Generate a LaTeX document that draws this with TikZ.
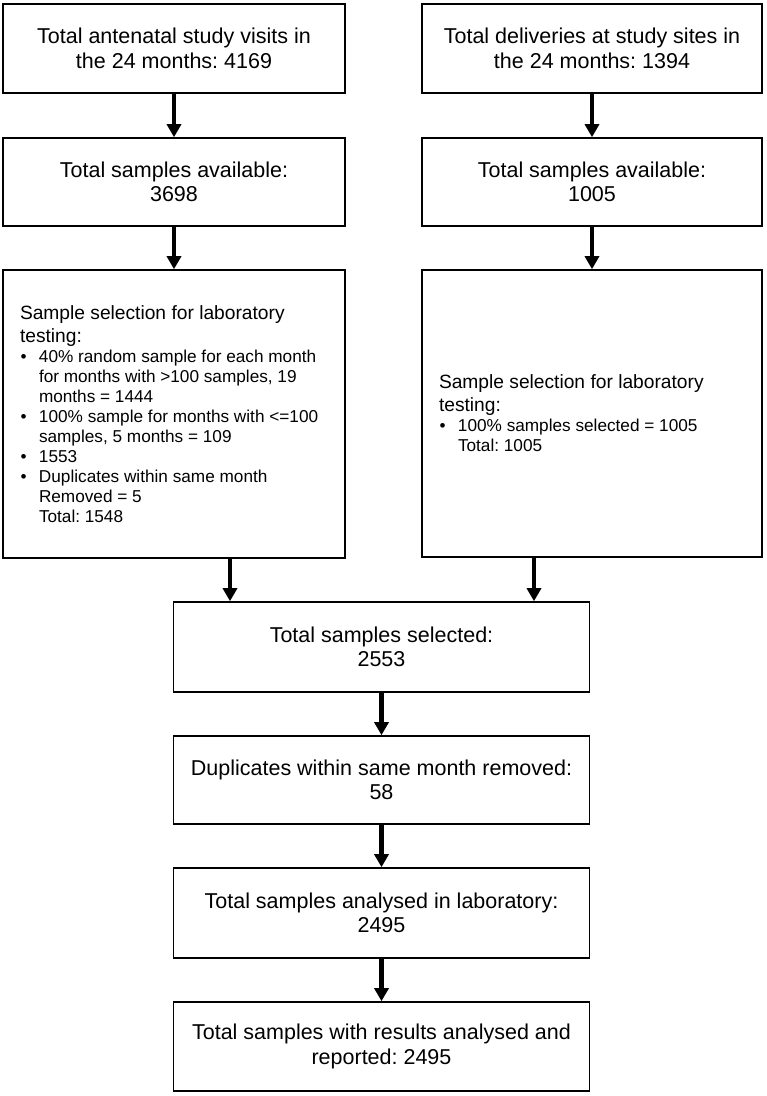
\documentclass[tikz,border=0pt]{standalone}
\usepackage{fontspec}
\setmainfont{Liberation Sans}
\usetikzlibrary{arrows.meta}
\newcommand{\mybul}[1]{\par\noindent\hangindent=19pt\hangafter=1\makebox[19pt][l]{\hspace{0.5pt}\textbullet}#1}
\newcommand{\headfont}{\fontsize{19.2}{23}\selectfont\spaceskip=0pt\xspaceskip=0pt\frenchspacing }
\newcommand{\listfont}{\fontsize{17.2}{20}\selectfont\spaceskip=0pt\xspaceskip=0pt\frenchspacing }
\begin{document}
\frenchspacing
\begin{tikzpicture}[x=1pt,y=-1pt,
  box/.style={draw, line width=1.6pt, rectangle, inner sep=0pt, align=center,
    font=\fontsize{21.5}{24.5}\selectfont\frenchspacing},
  listbox/.style={draw, line width=1.6pt, rectangle, inner xsep=17pt, inner ysep=0pt,
    align=left, text width=#1},
  arr/.style={line width=4.5pt, -{Triangle[width=14pt,length=13pt]}}]
\useasboundingbox (0,0) rectangle (767,1096);

\node[box, minimum width=342pt, minimum height=89pt] (a1) at (174,48.5)
  {Total antenatal study visits in\\the 24 months: 4169};
\node[box, minimum width=340pt, minimum height=89pt] (b1) at (592,48.5)
  {Total deliveries at study sites in\\the 24 months: 1394};
\node[box, minimum width=342pt, minimum height=88pt] (a2) at (174,182)
  {Total samples available:\\3698};
\node[box, minimum width=340pt, minimum height=88pt] (b2) at (592,182)
  {Total samples available:\\1005};

\node[listbox=308pt, minimum width=342pt, minimum height=288pt] (a3) at (174,414)
  {\headfont Sample selection for laboratory\newline testing:\par
   \listfont
   \mybul{40\% random sample for each month\newline for months with >100 samples, 19\newline months = 1444}
   \mybul{100\% sample for months with <=100\newline samples, 5 months = 109}
   \mybul{1553}
   \mybul{Duplicates within same month\newline Removed = 5\newline Total: 1548}\par};
\node[listbox=306pt, minimum width=340pt, minimum height=287pt] (b3) at (592,413.5)
  {\headfont Sample selection for laboratory\newline testing:\par
   \listfont
   \mybul{100\% samples selected = 1005\newline Total: 1005}\par};

\node[box, minimum width=416pt, minimum height=90pt] (c1) at (381.5,647)
  {Total samples selected:\\2553};
\node[box, minimum width=416pt, minimum height=88pt] (c2) at (381.5,780)
  {Duplicates within same month removed:\\58};
\node[box, minimum width=416pt, minimum height=90pt] (c3) at (381.5,913)
  {Total samples analysed in laboratory:\\2495};
\node[box, minimum width=416pt, minimum height=89pt] (c4) at (381.5,1046.5)
  {Total samples with results analysed and\\reported: 2495};

\coordinate (xl) at (230,0);
\coordinate (xr) at (534,0);

\draw[arr] (a1.south) -- (a2.north);
\draw[arr] (b1.south) -- (b2.north);
\draw[arr] (a2.south) -- (a3.north);
\draw[arr] (b2.south) -- (b3.north);
\draw[arr] (a3.south -| xl) -- (c1.north -| xl);
\draw[arr] (b3.south -| xr) -- (c1.north -| xr);
\draw[arr] (c1.south) -- (c2.north);
\draw[arr] (c2.south) -- (c3.north);
\draw[arr] (c3.south) -- (c4.north);
\end{tikzpicture}
\end{document}
